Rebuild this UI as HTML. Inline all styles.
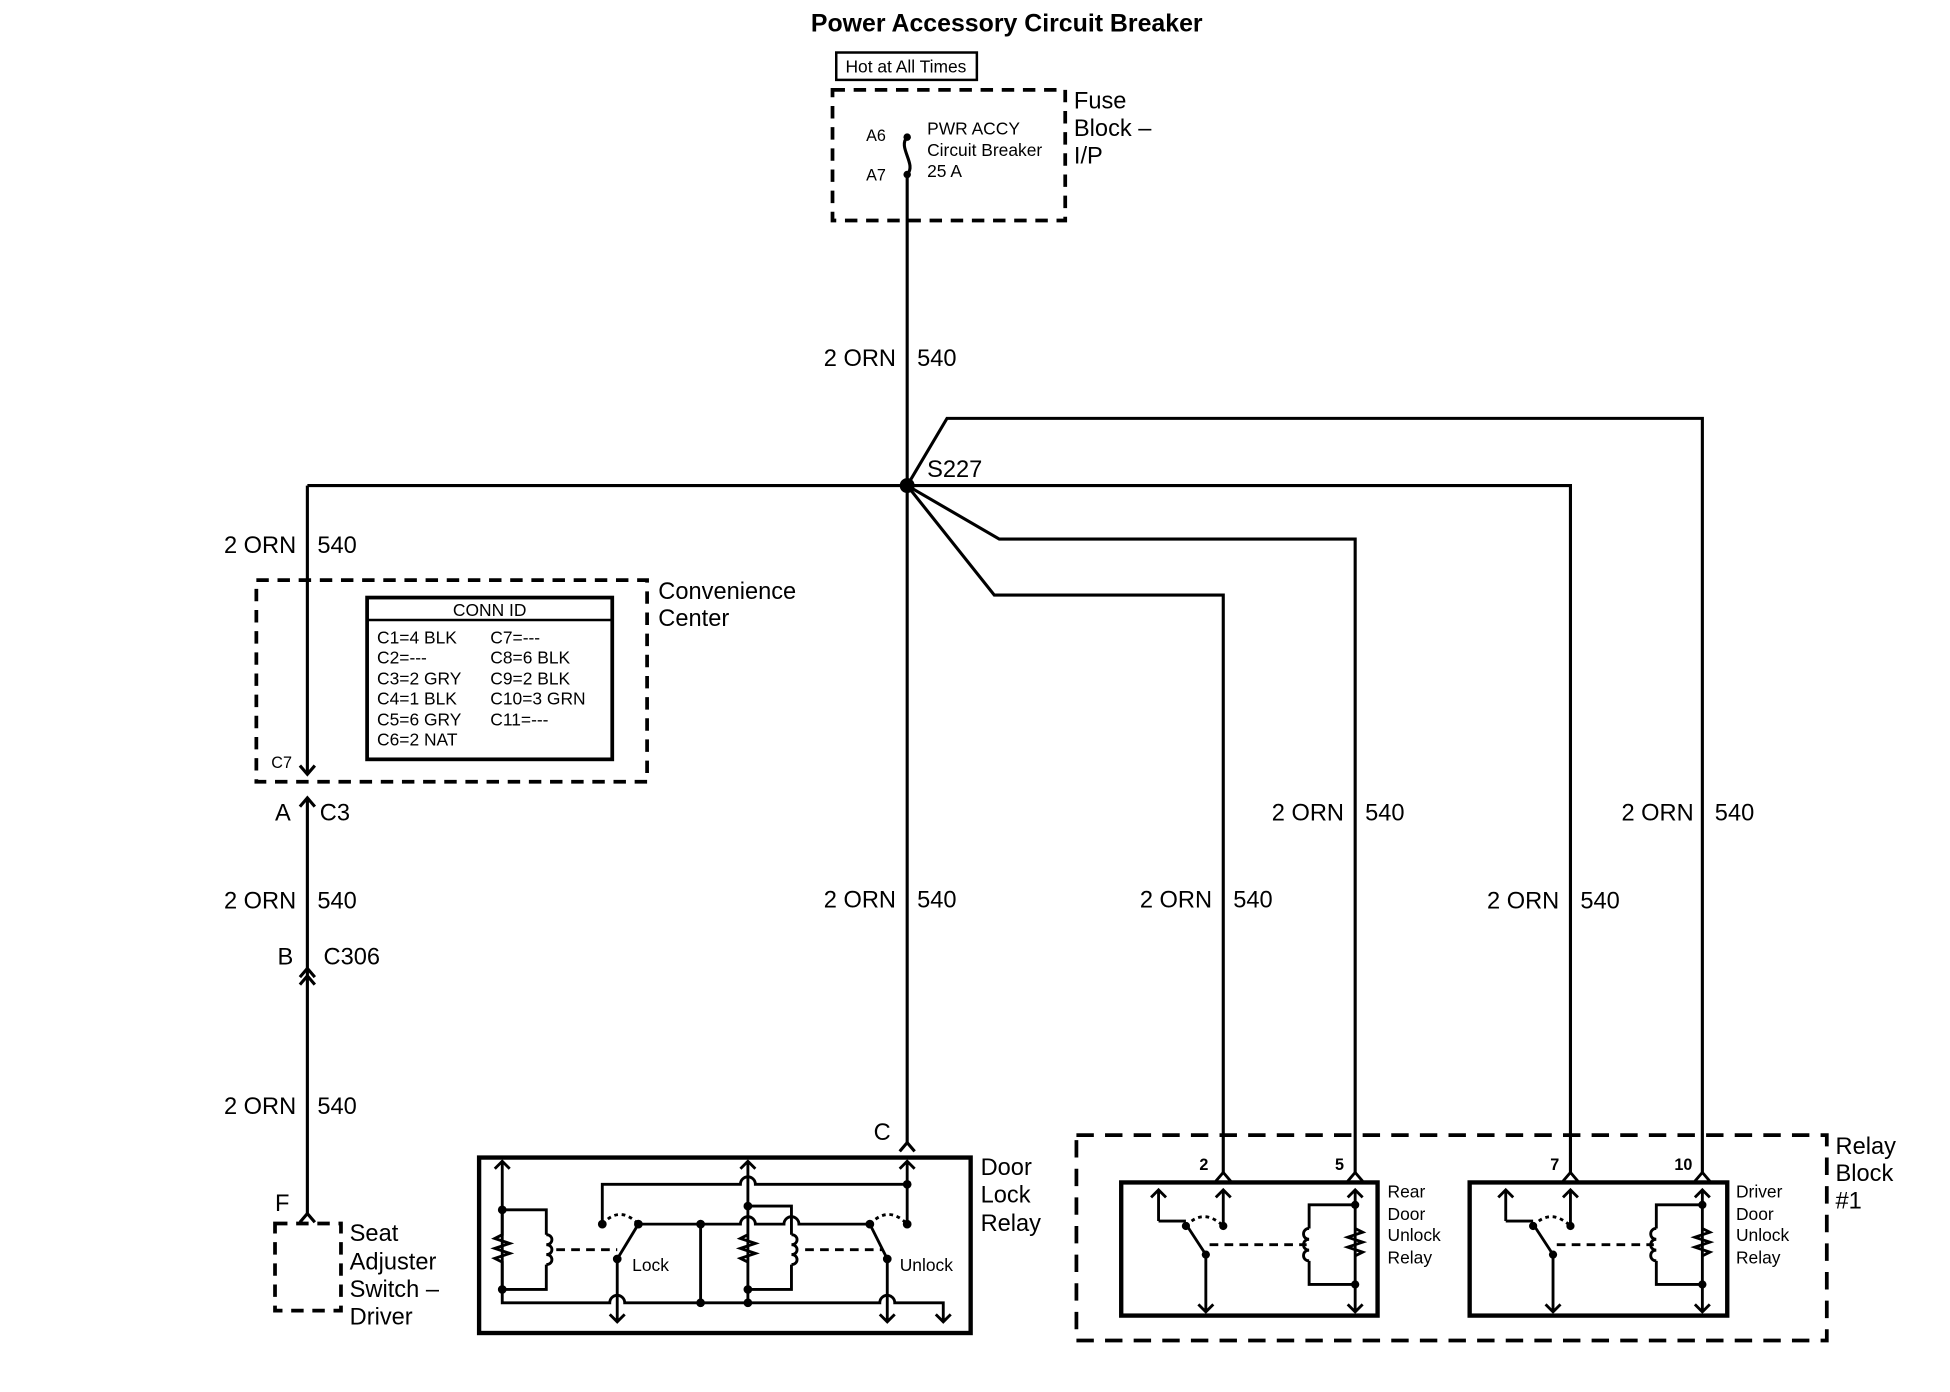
<!DOCTYPE html>
<html><head><meta charset="utf-8"><style>
html,body{margin:0;padding:0;background:#fff;}
svg{display:block;}
text{font-family:"Liberation Sans",Arial,sans-serif;fill:#000;}
</style></head><body>
<svg width="1950" height="1392" viewBox="1 0 1567 1118.2" xmlns="http://www.w3.org/2000/svg">
<g fill="none" stroke="#000" stroke-width="2.5">
<!-- fuse block -->
<rect x="673" y="42" width="113" height="22" stroke-width="2"/>
<rect x="670" y="72" width="187" height="105" stroke-dasharray="10,7" stroke-width="3"/>
<path d="M730 110 C722 118,738 132,730 140"/>
<!-- main wires -->
<path d="M730 140 V918"/>
<path d="M248 390 H1263 V942"/>
<path d="M248 390 V622"/>
<path d="M730 390 L762 336 H1369 V942"/>
<path d="M730 390 L804 433 H1090 V942"/>
<path d="M730 390 L800 478 H984 V942"/>
<!-- convenience center -->
<rect x="207" y="466" width="314" height="162" stroke-dasharray="10,7" stroke-width="3"/>
<rect x="296" y="480" width="197" height="130" stroke-width="3"/>
<path d="M296 498 H493" stroke-width="2"/>
<path d="M242 615 L248 622 L254 615"/>
<path d="M242 648 L248 641 L254 648 M248 641 V975"/>
<path d="M242 785 L248 778 L254 785 M242 791 L248 784 L254 791"/>
<path d="M242 982 L248 975 L254 982"/>
<rect x="222" y="983" width="53" height="70" stroke-dasharray="10,7" stroke-width="3"/>
<!-- door lock relay -->
<path d="M724 925 L730 918 L736 925"/>
<rect x="386" y="930" width="395" height="141" stroke-width="3.5"/>
<g stroke-width="2.3">
<path d="M404.6 1036 V933 M398.6 939 L404.6 933 L410.6 939"/>
<path d="M404.6 972 H440 V992 M440 1016 V1036 H404.6"/>
<path d="M440 992 c6 0,6 8,0 8 c6 0,6 8,0 8 c6 0,6 8,0 8"/>
<path d="M404.6 972 V992 l-6 3 l12 4 l-12 4 l12 4 l-12 4 l6 3 V1036"/>
<path d="M404.6 1036 V1046.7 H491 a6 6 0 0 1 12 0 H708 a6 6 0 0 1 12 0 H759 V1062 M753 1056 L759 1062 L765 1056"/>
<path d="M497 1011.5 V1062 M491 1056 L497 1062 L503 1056"/>
<path d="M714 1011.5 V1062 M708 1056 L714 1062 L720 1056"/>
<path d="M485 983.5 V951.5 H596 a6 6 0 0 1 12 0 H730"/>
<path d="M730 933 V983.5 M724 939 L730 933 L736 939"/>
<path d="M602 1046.7 V933 M596 939 L602 933 L608 939"/>
<path d="M602 969 H637 V992 M637 1016 V1036 H602"/>
<path d="M637 992 c6 0,6 8,0 8 c6 0,6 8,0 8 c6 0,6 8,0 8"/>
<path d="M602 992 l-6 3 l12 4 l-12 4 l12 4 l-12 4 l6 3"/>
<path d="M514 983.5 H596 a6 6 0 0 1 12 0 H631 a6 6 0 0 1 12 0 H700"/>
<path d="M564 983.5 V1046.7"/>
<path d="M497 1011.5 L514 983.5"/>
<path d="M714 1011.5 L700 983.5"/>
<path d="M448 1004 H497 M648 1004 H710" stroke-dasharray="7,5"/>
<path d="M485 983.5 Q499 968 514 983.5 M700 983.5 Q715 968 730 983.5" stroke-dasharray="3,3"/>
</g>
<!-- relay block -->
<rect x="866" y="912" width="603" height="165" stroke-dasharray="14,9" stroke-width="3"/>
<g stroke-width="2.3">
<path d="M978 949 L984 942 L990 949 M1084 949 L1090 942 L1096 949"/>
<path d="M1257 949 L1263 942 L1269 949 M1363 949 L1369 942 L1375 949"/>
<rect x="902" y="950" width="206" height="107" stroke-width="3.5"/>
<rect x="1182" y="950" width="207" height="107" stroke-width="3.5"/>
</g>
<g id="rel" stroke-width="2.3">
<path d="M932 981 V956 M926 962 L932 956 L938 962 M932 981 H954"/>
<path d="M984 985 V956 M978 962 L984 956 L990 962"/>
<path d="M954 985 Q968 970 984 985" stroke-dasharray="3,3"/>
<path d="M970 1008 L955 985 M970 1008 V1054 M964 1048 L970 1054 L976 1048"/>
<path d="M973 1000 H1051" stroke-dasharray="7,5"/>
<path d="M1090 956 V1054 M1084 962 L1090 956 L1096 962 M1084 1048 L1090 1054 L1096 1048"/>
<path d="M1090 968 H1053 V987 M1053 1013 V1032 H1090"/>
<path d="M1053 987 c-6 0,-6 8.7,0 8.7 c-6 0,-6 8.7,0 8.7 c-6 0,-6 8.6,0 8.6"/>
<path d="M1090 987 l6 3 l-12 4 l12 4 l-12 4 l12 4 l-6 3"/>
</g>
<use href="#rel" transform="translate(279,0)"/>
</g>
<!-- dots -->
<g fill="#000">
<circle cx="730" cy="110" r="3"/><circle cx="730" cy="140" r="3"/>
<circle cx="730" cy="390" r="6"/>
<circle cx="404.6" cy="972" r="3.5"/><circle cx="404.6" cy="1036" r="3.5"/>
<circle cx="485" cy="983.5" r="3.5"/><circle cx="514" cy="983.5" r="3.5"/><circle cx="497" cy="1011.5" r="3.5"/>
<circle cx="564" cy="983.5" r="3.5"/><circle cx="564" cy="1046.7" r="3.5"/>
<circle cx="602" cy="969" r="3.5"/><circle cx="602" cy="1036" r="3.5"/><circle cx="602" cy="1046.7" r="3.5"/>
<circle cx="730" cy="951.5" r="3.5"/><circle cx="730" cy="983.5" r="3.5"/><circle cx="700" cy="983.5" r="3.5"/><circle cx="714" cy="1011.5" r="3.5"/>
<g id="rd"><circle cx="954" cy="985" r="3.3"/><circle cx="984" cy="985" r="3.3"/><circle cx="970" cy="1008" r="3.3"/><circle cx="1090" cy="968" r="3.3"/><circle cx="1090" cy="1032" r="3.3"/></g>
<use href="#rd" transform="translate(279,0)"/>
</g>
<!-- text -->
<text x="810" y="25" font-size="20" font-weight="bold" text-anchor="middle">Power Accessory Circuit Breaker</text>
<text x="729" y="58" font-size="14" text-anchor="middle">Hot at All Times</text>
<g font-size="19"><text x="864" y="87">Fuse</text><text x="864" y="109">Block –</text><text x="864" y="131">I/P</text></g>
<g font-size="13"><text x="697" y="113">A6</text><text x="697" y="145">A7</text></g>
<g font-size="14"><text x="746" y="108">PWR ACCY</text><text x="746" y="125">Circuit Breaker</text><text x="746" y="142">25 A</text></g>
<text x="746" y="383" font-size="19">S227</text>
<g font-size="19">
<text x="721" y="294" text-anchor="end">2 ORN</text><text x="738" y="294">540</text>
<text x="239" y="444" text-anchor="end">2 ORN</text><text x="256" y="444">540</text>
<text x="239" y="730" text-anchor="end">2 ORN</text><text x="256" y="730">540</text>
<text x="239" y="895" text-anchor="end">2 ORN</text><text x="256" y="895">540</text>
<text x="721" y="729" text-anchor="end">2 ORN</text><text x="738" y="729">540</text>
<text x="975" y="729" text-anchor="end">2 ORN</text><text x="992" y="729">540</text>
<text x="1081" y="659" text-anchor="end">2 ORN</text><text x="1098" y="659">540</text>
<text x="1254" y="730" text-anchor="end">2 ORN</text><text x="1271" y="730">540</text>
<text x="1362" y="659" text-anchor="end">2 ORN</text><text x="1379" y="659">540</text>
<text x="530" y="481">Convenience</text><text x="530" y="503">Center</text>
<text x="222" y="659">A</text><text x="258" y="659">C3</text>
<text x="224" y="775">B</text><text x="261" y="775">C306</text>
<text x="222" y="973">F</text>
<text x="282" y="997">Seat</text><text x="282" y="1020">Adjuster</text><text x="282" y="1042">Switch –</text><text x="282" y="1064">Driver</text>
<text x="703" y="916">C</text>
<text x="789" y="944">Door</text><text x="789" y="966">Lock</text><text x="789" y="989">Relay</text>
<text x="1476" y="927">Relay</text><text x="1476" y="949">Block</text><text x="1476" y="971">#1</text>
</g>
<text x="219" y="617" font-size="13">C7</text>
<g font-size="14">
<text x="394.5" y="495" text-anchor="middle">CONN ID</text>
<text x="304" y="517">C1=4 BLK</text><text x="304" y="533">C2=---</text><text x="304" y="550">C3=2 GRY</text><text x="304" y="566">C4=1 BLK</text><text x="304" y="583">C5=6 GRY</text><text x="304" y="599">C6=2 NAT</text>
<text x="395" y="517">C7=---</text><text x="395" y="533">C8=6 BLK</text><text x="395" y="550">C9=2 BLK</text><text x="395" y="566">C10=3 GRN</text><text x="395" y="583">C11=---</text>
<text x="509" y="1021">Lock</text><text x="724" y="1021">Unlock</text>
<text x="1116" y="962">Rear</text><text x="1116" y="980">Door</text><text x="1116" y="997">Unlock</text><text x="1116" y="1015">Relay</text>
<text x="1396" y="962">Driver</text><text x="1396" y="980">Door</text><text x="1396" y="997">Unlock</text><text x="1396" y="1015">Relay</text>
</g>
<g font-size="13" font-weight="bold" text-anchor="end">
<text x="972" y="940">2</text><text x="1081" y="940">5</text><text x="1254" y="940">7</text><text x="1361" y="940">10</text>
</g>
</svg>
</body></html>
